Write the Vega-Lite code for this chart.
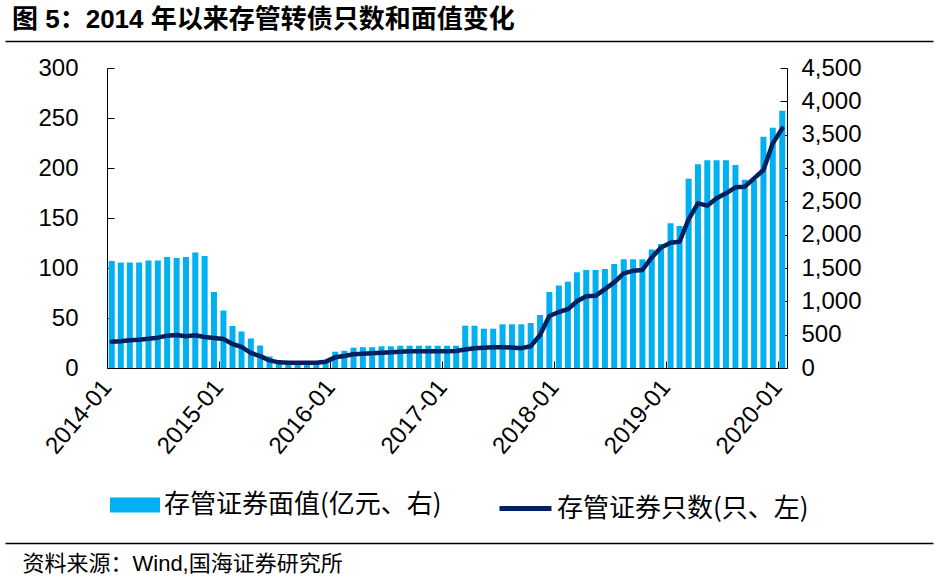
{
  "$schema": "https://vega.github.io/schema/vega-lite/v6.json",
  "width": 680,
  "height": 300,
  "autosize": "none",
  "padding": {"left": 107, "top": 68, "right": 151, "bottom": 212},
  "background": "white",
  "title": {
    "text": "图 5：2014 年以来存管转债只数和面值变化",
    "anchor": "start",
    "frame": "group",
    "dx": -95,
    "offset": 8,
    "font": "Liberation Sans, Noto Sans CJK SC",
    "fontSize": 26,
    "fontWeight": "bold",
    "color": "black"
  },
  "config": {
    "view": {"stroke": null},
    "axis": {
      "grid": false,
      "domainColor": "black",
      "tickColor": "black",
      "labelColor": "black",
      "labelFont": "Liberation Sans",
      "labelFontSize": 24,
      "tickSize": -7,
      "labelOverlap": false,
      "labelFlush": false
    }
  },
  "layer": [
    {
      "data": {
        "values": [
          {"month": "2014-01", "face": 107, "count": 395},
          {"month": "2014-02", "face": 105.5, "count": 400},
          {"month": "2014-03", "face": 105.5, "count": 415},
          {"month": "2014-04", "face": 105.5, "count": 425},
          {"month": "2014-05", "face": 107.5, "count": 440},
          {"month": "2014-06", "face": 107.5, "count": 455},
          {"month": "2014-07", "face": 111, "count": 485},
          {"month": "2014-08", "face": 110, "count": 495},
          {"month": "2014-09", "face": 111, "count": 475},
          {"month": "2014-10", "face": 115.5, "count": 490},
          {"month": "2014-11", "face": 112, "count": 465},
          {"month": "2014-12", "face": 76, "count": 450},
          {"month": "2015-01", "face": 57.5, "count": 435},
          {"month": "2015-02", "face": 42, "count": 360},
          {"month": "2015-03", "face": 36.5, "count": 318},
          {"month": "2015-04", "face": 29.5, "count": 225},
          {"month": "2015-05", "face": 22.5, "count": 178},
          {"month": "2015-06", "face": 11.5, "count": 115},
          {"month": "2015-07", "face": 7, "count": 85},
          {"month": "2015-08", "face": 7, "count": 80},
          {"month": "2015-09", "face": 7, "count": 80},
          {"month": "2015-10", "face": 7, "count": 80},
          {"month": "2015-11", "face": 7, "count": 80},
          {"month": "2015-12", "face": 7, "count": 95},
          {"month": "2016-01", "face": 16.3, "count": 160},
          {"month": "2016-02", "face": 17.2, "count": 180},
          {"month": "2016-03", "face": 20.3, "count": 205},
          {"month": "2016-04", "face": 20.8, "count": 215},
          {"month": "2016-05", "face": 20.8, "count": 222},
          {"month": "2016-06", "face": 21.7, "count": 230},
          {"month": "2016-07", "face": 21.7, "count": 235},
          {"month": "2016-08", "face": 22.3, "count": 245},
          {"month": "2016-09", "face": 22.3, "count": 250},
          {"month": "2016-10", "face": 22.3, "count": 250},
          {"month": "2016-11", "face": 22.3, "count": 250},
          {"month": "2016-12", "face": 22.3, "count": 250},
          {"month": "2017-01", "face": 22.3, "count": 252},
          {"month": "2017-02", "face": 22.3, "count": 255},
          {"month": "2017-03", "face": 42.3, "count": 278},
          {"month": "2017-04", "face": 42.3, "count": 295},
          {"month": "2017-05", "face": 39.3, "count": 303},
          {"month": "2017-06", "face": 39.3, "count": 310},
          {"month": "2017-07", "face": 43.7, "count": 313},
          {"month": "2017-08", "face": 43.7, "count": 308},
          {"month": "2017-09", "face": 43.7, "count": 298},
          {"month": "2017-10", "face": 45, "count": 325},
          {"month": "2017-11", "face": 53, "count": 495},
          {"month": "2017-12", "face": 76, "count": 780},
          {"month": "2018-01", "face": 82.5, "count": 840},
          {"month": "2018-02", "face": 86.3, "count": 882},
          {"month": "2018-03", "face": 95.7, "count": 1000},
          {"month": "2018-04", "face": 98, "count": 1075},
          {"month": "2018-05", "face": 98, "count": 1082},
          {"month": "2018-06", "face": 99, "count": 1182},
          {"month": "2018-07", "face": 104, "count": 1285},
          {"month": "2018-08", "face": 108.7, "count": 1420},
          {"month": "2018-09", "face": 108.7, "count": 1458},
          {"month": "2018-10", "face": 108.7, "count": 1470},
          {"month": "2018-11", "face": 118.5, "count": 1658},
          {"month": "2018-12", "face": 124, "count": 1808},
          {"month": "2019-01", "face": 144.7, "count": 1880},
          {"month": "2019-02", "face": 142, "count": 1895},
          {"month": "2019-03", "face": 189.2, "count": 2230},
          {"month": "2019-04", "face": 203.7, "count": 2470},
          {"month": "2019-05", "face": 207.7, "count": 2435},
          {"month": "2019-06", "face": 207.7, "count": 2545},
          {"month": "2019-07", "face": 207.7, "count": 2620},
          {"month": "2019-08", "face": 203, "count": 2710},
          {"month": "2019-09", "face": 188.2, "count": 2720},
          {"month": "2019-10", "face": 188, "count": 2845},
          {"month": "2019-11", "face": 231.2, "count": 2970},
          {"month": "2019-12", "face": 240.3, "count": 3370},
          {"month": "2020-01", "face": 257.3, "count": 3595}
        ]
      },
      "encoding": {
        "x": {
          "field": "month",
          "type": "temporal",
          "timeUnit": "utcyearmonth",
          "bandPosition": 0.5,
          "scale": {
            "type": "utc",
            "nice": false,
            "domain": [
              {"year": 2014, "month": 1, "date": 1, "utc": true},
              {"year": 2020, "month": 2, "date": 1, "utc": true}
            ]
          },
          "axis": {
            "values": [
              {"year": 2014, "month": 1, "date": 1, "utc": true},
              {"year": 2015, "month": 1, "date": 1, "utc": true},
              {"year": 2016, "month": 1, "date": 1, "utc": true},
              {"year": 2017, "month": 1, "date": 1, "utc": true},
              {"year": 2018, "month": 1, "date": 1, "utc": true},
              {"year": 2019, "month": 1, "date": 1, "utc": true},
              {"year": 2020, "month": 1, "date": 1, "utc": true}
            ],
            "format": "%Y-%m",
            "labelAngle": -50,
            "labelAlign": "right",
            "labelBaseline": "middle",
            "labelPadding": 22,
            "labelFontSize": 24,
            "title": "资料来源：Wind,国海证券研究所",
            "titleX": -85,
            "titleY": 202,
            "titleAlign": "left",
            "titleBaseline": "alphabetic",
            "titleFont": "Liberation Sans, Noto Sans CJK SC",
            "titleFontSize": 22,
            "titleFontWeight": "normal",
            "titleColor": "black"
          }
        }
      },
      "layer": [
        {
          "mark": {"type": "bar", "size": 6},
          "encoding": {
            "y": {
              "field": "face",
              "type": "quantitative",
              "scale": {"domain": [0, 300], "nice": false},
              "axis": {
                "orient": "left",
                "values": [0, 50, 100, 150, 200, 250, 300],
                "labelPadding": 36,
                "title": null
              }
            },
            "fill": {
              "datum": "存管证券面值(亿元、右)",
              "scale": {"range": ["#00B0F0"]},
              "legend": {
                "orient": "none",
                "legendX": 3,
                "legendY": 412,
                "title": null,
                "padding": 0,
                "symbolType": "M-1,-0.3H1V0.3H-1Z",
                "symbolSize": 2500,
                "symbolStrokeWidth": 0,
                "labelFont": "Noto Sans CJK SC",
                "labelFontSize": 26,
                "labelColor": "black",
                "labelOffset": 4,
                "labelLimit": 0
              }
            }
          }
        },
        {
          "mark": {"type": "line", "strokeWidth": 4.5, "strokeJoin": "round", "strokeCap": "round"},
          "encoding": {
            "y": {
              "field": "count",
              "type": "quantitative",
              "scale": {"domain": [0, 4500], "nice": false},
              "axis": {
                "orient": "right",
                "values": [0, 500, 1000, 1500, 2000, 2500, 3000, 3500, 4000, 4500],
                "format": ",d",
                "labelPadding": 21,
                "title": null
              }
            },
            "stroke": {
              "datum": "存管证券只数(只、左)",
              "scale": {"range": ["#002060"]},
              "legend": {
                "orient": "none",
                "legendX": 390,
                "legendY": 412,
                "title": null,
                "padding": 0,
                "symbolType": "stroke",
                "symbolSize": 2700,
                "symbolStrokeWidth": 5,
                "labelFont": "Noto Sans CJK SC",
                "labelFontSize": 26,
                "labelColor": "black",
                "labelOffset": 3,
                "labelLimit": 0
              }
            }
          }
        }
      ],
      "resolve": {"scale": {"y": "independent"}}
    },
    {
      "data": {"values": []},
      "mark": {"type": "rule"},
      "encoding": {
        "x": {
          "datum": 0,
          "type": "quantitative",
          "scale": {"domain": [0, 1], "range": [-102, 826]},
          "axis": {
            "orient": "top",
            "offset": 27,
            "domain": true,
            "domainWidth": 1.5,
            "ticks": false,
            "labels": false,
            "title": null
          }
        }
      }
    },
    {
      "data": {"values": []},
      "mark": {"type": "rule"},
      "encoding": {
        "x": {
          "datum": 0,
          "type": "quantitative",
          "scale": {"domain": [0, 1], "range": [-102, 826]},
          "axis": {
            "orient": "bottom",
            "offset": 175,
            "domain": true,
            "domainWidth": 1.5,
            "ticks": false,
            "labels": false,
            "title": null
          }
        }
      }
    }
  ],
  "resolve": {"scale": {"x": "independent", "y": "independent"}, "axis": {"x": "independent"}}
}
